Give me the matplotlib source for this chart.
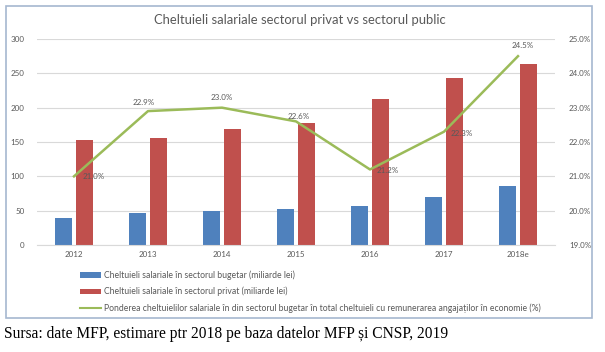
import matplotlib.pyplot as plt
import numpy as np
from matplotlib.patches import Rectangle, Patch
from matplotlib.lines import Line2D

# data
years = ['2012', '2013', '2014', '2015', '2016', '2017', '2018e']
bugetar = [40, 46, 50, 52, 57, 70, 86]
privat = [153, 156, 169, 178, 213, 243, 264]
pondere = [21.0, 22.9, 23.0, 22.6, 21.2, 22.3, 24.5]

title = 'Cheltuieli salariale sectorul privat vs sectorul public'
legend_labels = [
    'Cheltuieli salariale în sectorul bugetar (miliarde lei)',
    'Cheltuieli salariale în sectorul privat (miliarde lei)',
    'Ponderea cheltuielilor salariale în din sectorul bugetar în total cheltuieli cu remunerarea angajaților în economie (%)',
]
source = 'Sursa: date MFP, estimare ptr 2018 pe baza datelor MFP și CNSP, 2019'

blue = '#4F81BD'
red = '#C0504D'
green = '#9BBB59'
grey = '#595959'

plt.rcParams['font.family'] = ['Lato', 'DejaVu Sans']

W, H = 605, 352
fig = plt.figure(figsize=(W / 100, H / 100), dpi=100)

# chart frame
fig.patches.append(Rectangle((6 / W, 1 - 318 / H), 586 / W, 312 / H,
                             transform=fig.transFigure, fill=False,
                             edgecolor='#A6B8D0', linewidth=1.2))

ax = fig.add_axes([37 / W, 1 - 245 / H, 518 / W, 206 / H])
x = np.arange(len(years))
bw = 0.22
ax.bar(x - 0.142, bugetar, bw, color=blue, zorder=2)
ax.bar(x + 0.142, privat, bw, color=red, zorder=2)
ax.set_xlim(-0.5, len(years) - 0.5)
ax.set_ylim(0, 300)
ax.set_yticks(range(0, 301, 50))
ax.set_xticks(x)
ax.set_xticklabels(years)
ax.yaxis.grid(True, color='#D9D9D9', linewidth=0.8, zorder=0)
ax.set_axisbelow(True)
for s in ax.spines.values():
    s.set_visible(False)
ax.spines['bottom'].set_visible(True)
ax.spines['bottom'].set_color('#D9D9D9')
ax.tick_params(axis='both', length=0, labelsize=5.8, colors=grey)
ax.tick_params(axis='y', pad=9)
ax.tick_params(axis='x', pad=4)

ax2 = ax.twinx()
ax2.plot(x, pondere, color=green, linewidth=1.8, zorder=3)
ax2.set_ylim(19, 25)
ax2.set_yticks(np.arange(19, 25.1, 1))
ax2.set_yticklabels([f'{v:.1f}%' for v in np.arange(19, 25.1, 1)])
for s in ax2.spines.values():
    s.set_visible(False)
ax2.tick_params(axis='y', length=0, labelsize=5.8, colors=grey, pad=10)

# data labels: (dx, dy) in points, alignment
offsets = [(6, 0, 'left', 'center'), (-3, 4, 'center', 'bottom'),
           (0, 5, 'center', 'bottom'), (2, 1, 'center', 'bottom'),
           (5, -1, 'left', 'center'), (5, -1, 'left', 'center'),
           (3, 5, 'center', 'bottom')]
for xi, v, (dx, dy, ha, va) in zip(x, pondere, offsets):
    ax2.annotate(f'{v:.1f}%', (xi, v), xytext=(dx, dy),
                 textcoords='offset points', ha=ha, va=va,
                 fontsize=5.8, color=grey, zorder=4)

fig.text(300 / W, 1 - 20 / H, title, ha='center', va='center',
         fontsize=9.4, color=grey)

handles = [Patch(facecolor=blue), Patch(facecolor=red),
           Line2D([], [], color=green, linewidth=1.5)]
fig.legend(handles, legend_labels, loc='upper left',
           bbox_to_anchor=(76 / W, 1 - 266 / H), frameon=False,
           fontsize=6.2, labelcolor=grey, handlelength=2.4, handleheight=0.6,
           handletextpad=0.3, labelspacing=0.8, borderpad=0)

fig.text(4 / W, 1 - 334 / H, source, ha='left', va='center',
         fontsize=11.2, family=['Liberation Serif', 'DejaVu Serif'], color='black')

fig.savefig('out.png', dpi=100)
